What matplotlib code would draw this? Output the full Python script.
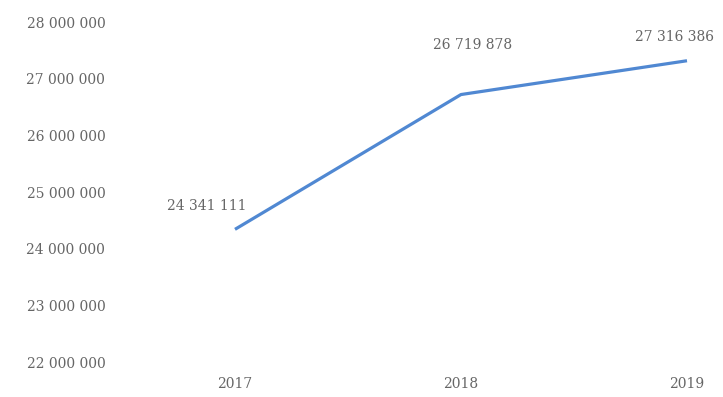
import matplotlib
matplotlib.use("Agg")
import matplotlib.pyplot as plt
from matplotlib.ticker import FuncFormatter

years = ["2017", "2018", "2019"]
values = [24341111, 26719878, 27316386]
# label offsets in points (dx, dy) from each data point
label_offsets = [(-20, 17), (8, 36), (-9, 17)]

y_ticks = [22000000, 23000000, 24000000, 25000000, 26000000, 27000000, 28000000]


def space_thousands(v, pos=None):
    return f"{int(v):,}".replace(",", " ")


W, H = 723, 397
fig = plt.figure(figsize=(W / 100, H / 100), dpi=100)
left, right = 115, 723
bottom, top = 362, 22
ax = fig.add_axes([left / W, (H - bottom) / H, (right - left) / W, (bottom - top) / H])

xs = list(range(len(years)))
ax.plot(xs, values, color="#5088d2", linewidth=2.3, solid_capstyle="butt")

# x pixel = 235 + 226 * index
ax.set_xlim((left - 235) / 226, (right - 235) / 226)
ax.set_ylim(y_ticks[0], y_ticks[-1])

text_color = "#666666"
font = "DejaVu Serif"
fs = 10

ax.set_xticks(xs)
ax.set_xticklabels(years, family=font, fontsize=fs, color=text_color)
ax.set_yticks(y_ticks)
ax.yaxis.set_major_formatter(FuncFormatter(space_thousands))
for lbl in ax.get_yticklabels():
    lbl.set_family(font)
    lbl.set_fontsize(fs)
    lbl.set_color(text_color)
ax.tick_params(axis="x", length=0, pad=11)
ax.tick_params(axis="y", length=0, pad=7)

for s in ax.spines.values():
    s.set_visible(False)

for x, v, (dx, dy) in zip(xs, values, label_offsets):
    ax.annotate(space_thousands(v), (x, v), xytext=(dx, dy), textcoords="offset points",
                ha="center", va="center", family=font, fontsize=fs, color=text_color,
                annotation_clip=False)

fig.savefig("out.png", dpi=100)
